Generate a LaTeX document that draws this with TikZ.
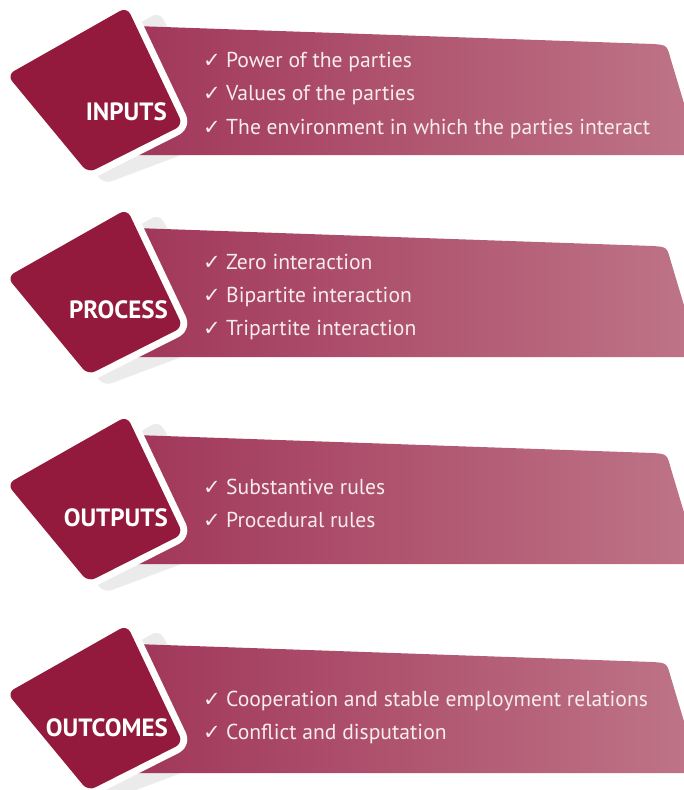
\documentclass[tikz,border=0pt]{standalone}
\usepackage{fontspec}
\setmainfont{PT Sans}
\newfontfamily\chkfont{DejaVu Sans}
\definecolor{sqc}{HTML}{931A3C}
\definecolor{bnl}{HTML}{A1375A}
\definecolor{bnm}{HTML}{B6647C}
\definecolor{bnr}{HTML}{BF7588}
\definecolor{shc}{HTML}{EBEBEB}
\definecolor{txc}{HTML}{F7ECEF}
\tikzset{
  shadowbox/.style={fill=shc, rounded corners=8},
  bannerbox/.style={left color=bnl, middle color=bnm, right color=bnr},
  squareborder/.style={draw=white, line width=14, rounded corners=8, line join=round},
  squarefill/.style={fill=sqc, rounded corners=8},
  labeltext/.style={anchor=base east, inner sep=0, text=white, font=\fontsize{25}{28}\selectfont\bfseries},
  itemtext/.style={anchor=base west, inner sep=0, text=txc, font=\fontsize{21.6}{24}\selectfont},
  chkmark/.style={anchor=base west, inner sep=0, text=txc, font=\chkfont\fontsize{21}{24}\selectfont},
}
\newcommand\myblock[1]{%
\begin{scope}[shift={(0,#1)}]
  \path[shadowbox] (159,12) -- (232,136) -- (104,184) -- (30,86) -- cycle;
  \shade[bannerbox] (135,26) -- (653,44) .. controls (667,45) .. (671,60) -- (701,160) -- (701,155) -- (135,155) -- cycle;
  \path[squareborder] (127,7) -- (183,125) -- (88,173) -- (7,75) -- cycle;
  \path[squarefill] (127,7) -- (183,125) -- (88,173) -- (7,75) -- cycle;
\end{scope}}
\begin{document}
\begin{tikzpicture}[x=1pt,y=-1pt]
\useasboundingbox (0,0) rectangle (684,790);
\clip (0,0) rectangle (684,790);
\myblock{0}
\myblock{202}
\myblock{409}
\myblock{618}
\node[labeltext] (lab1) at (167,120) {INPUTS};
\node[labeltext] (lab2) at (168,318) {PROCESS};
\node[labeltext] (lab3) at (168,526) {OUTPUTS};
\node[labeltext] (lab4) at (168,736) {OUTCOMES};
\foreach \n/\y in {11/67,12/100,13/134,21/269,22/302,23/335,31/494,32/527,41/706,42/739}
  \node[chkmark] (c\n) at (203,\y) {✓};
\node[itemtext] (it11) at (226,67) {Power of the parties};
\node[itemtext] (it12) at (226,100) {Values of the parties};
\node[itemtext] (it13) at (226,134) {The environment in which the parties interact};
\node[itemtext] (it21) at (226,269) {Zero interaction};
\node[itemtext] (it22) at (226,302) {Bipartite interaction};
\node[itemtext] (it23) at (226,335) {Tripartite interaction};
\node[itemtext] (it31) at (226,494) {Substantive rules};
\node[itemtext] (it32) at (226,527) {Procedural rules};
\node[itemtext] (it41) at (226,706) {Cooperation and stable employment relations};
\node[itemtext] (it42) at (226,739) {Conflict and disputation};
\end{tikzpicture}
\end{document}
